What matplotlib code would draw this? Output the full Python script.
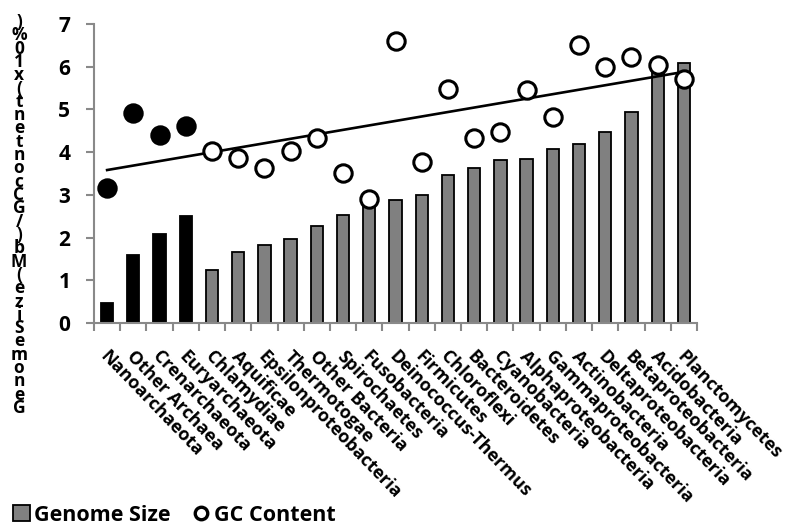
import numpy as np
import matplotlib
matplotlib.use("Agg")
import matplotlib.pyplot as plt
from matplotlib.lines import Line2D
from matplotlib.patches import Patch

plt.rcParams["font.family"] = ["Open Sans", "DejaVu Sans"]
plt.rcParams["font.weight"] = "bold"

phyla = ["Nanoarchaeota", "Other Archaea", "Crenarchaeota", "Euryarchaeota",
         "Chlamydiae", "Aquificae", "Epsilonproteobacteria", "Thermotogae",
         "Other Bacteria", "Spirochaetes", "Fusobacteria", "Deinococcus-Thermus",
         "Firmicutes", "Chloroflexi", "Bacteroidetes", "Cyanobacteria",
         "Alphaproteobacteria", "Gammaproteobacteria", "Actinobacteria",
         "Deltaproteobacteria", "Betaproteobacteria", "Acidobacteria",
         "Planctomycetes"]
# genome size in Mb
genome_size = [0.47, 1.59, 2.09, 2.51, 1.23, 1.66, 1.82, 1.97, 2.28, 2.54,
               2.78, 2.88, 3.00, 3.47, 3.62, 3.82, 3.85, 4.08, 4.19, 4.47,
               4.93, 5.92, 6.08]
# GC content in units of 10 %
gc_content = [3.16, 4.91, 4.40, 4.61, 4.03, 3.87, 3.62, 4.03, 4.33, 3.52,
              2.91, 6.60, 3.76, 5.48, 4.33, 4.46, 5.46, 4.83, 6.52, 6.00,
              6.22, 6.04, 5.71]
n_archaea = 4

ylabel = "Genome Size (Mb)/GC content (x10%)"

x = np.arange(len(phyla))
is_arch = x < n_archaea
axis_grey = "#898989"

fig = plt.figure(figsize=(7.88, 5.27), dpi=100)
ax = fig.add_axes([94 / 788, 1 - 323 / 527, 603 / 788, 299 / 527])

bar_colors = ["black" if a else "#808080" for a in is_arch]
ax.bar(x, genome_size, width=0.47, color=bar_colors, edgecolor="black",
       linewidth=1.3, zorder=2)

# linear trend through the GC values
slope, icpt = np.polyfit(x, gc_content, 1)
ax.plot([x[0], x[-1]], [icpt + slope * x[0], icpt + slope * x[-1]],
        color="black", lw=1.9, zorder=3)

gc = np.array(gc_content)
ax.plot(x[is_arch], gc[is_arch], "o", ms=12.5, mfc="black", mec="black",
        mew=2.2, zorder=4)
ax.plot(x[~is_arch], gc[~is_arch], "o", ms=12.5, mfc="white", mec="black",
        mew=2.2, zorder=4)

ax.set_xlim(-0.5, len(phyla) - 0.5)
ax.set_ylim(0, 7)
ax.set_yticks(range(8))
ax.tick_params(axis="y", length=6, width=1.5, color=axis_grey, pad=11,
               labelsize=15)
for s in ["top", "right"]:
    ax.spines[s].set_visible(False)
for s in ["left", "bottom"]:
    ax.spines[s].set_color(axis_grey)
    ax.spines[s].set_linewidth(1.5)

ax.set_xticks(x)
ax.set_xticklabels([])
ax.set_xticks(np.arange(-0.5, len(phyla)), minor=True)
ax.tick_params(axis="x", which="major", length=0)
ax.tick_params(axis="x", which="minor", length=6, width=1.5, color=axis_grey)
for i, name in enumerate(phyla):
    ax.text(i - 0.15, -0.72, name, rotation=-46, rotation_mode="anchor",
            ha="left", va="center", fontsize=13, fontweight="bold",
            transform=ax.transData, clip_on=False)

# stacked vertical axis title, reversed order from top
chars = [c for c in ylabel[::-1] if c != " "]
top, bottom = 22, 408
step = (bottom - top) / (len(chars) - 1)
for k, c in enumerate(chars):
    fig.text(19 / 788, 1 - (top + k * step) / 527, c, ha="center",
             va="center", fontsize=12.5, fontweight="bold")

handles = [Patch(facecolor="#808080", edgecolor="black", linewidth=1.3),
           Line2D([], [], ls="none", marker="o", ms=9, mfc="white",
                  mec="black", mew=2.4)]
fig.legend(handles, ["Genome Size", "GC Content"], loc="lower left",
           bbox_to_anchor=(0.0, -0.022), ncol=2, frameon=False,
           prop={"size": 15.5, "weight": "bold"}, handlelength=0.8,
           handleheight=0.75, handletextpad=0.2, columnspacing=1.0,
           borderaxespad=0.2)

fig.savefig("out.png", dpi=100)
